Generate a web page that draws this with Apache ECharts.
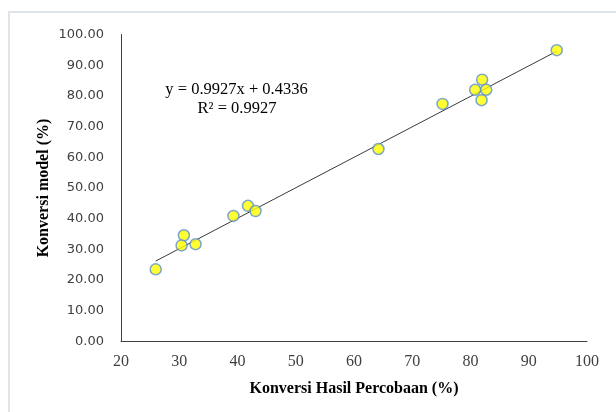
<!DOCTYPE html>
<html><head><meta charset="utf-8">
<script src="https://cdn.jsdelivr.net/npm/echarts@6/dist/echarts.min.js"></script>
<style>html,body{margin:0;padding:0;background:#fff}#c{width:616px;height:412px}</style>
</head><body><div id="c"></div>
<script>
const xVals = [25.96, 30.8, 30.4, 32.8, 39.3, 41.8, 43.1, 64.2, 75.2, 80.8, 82.0, 82.7, 81.9, 94.8];
const yVals = [23.5, 34.6, 31.3, 31.7, 40.9, 44.2, 42.5, 62.7, 77.4, 82.0, 85.3, 82.0, 78.6, 94.9];
const slope = 0.9927, intercept = 0.4336, r2 = 0.9927;
const xTitle = 'Konversi Hasil Percobaan (%)';
const yTitle = 'Konversi model (%)';

const pts = xVals.map((x, i) => [x, yVals[i]]);
const xmin = Math.min(...xVals), xmax = Math.max(...xVals);
const trend = [[xmin, slope * xmin + intercept], [xmax, slope * xmax + intercept]];

const chart = echarts.init(document.getElementById('c'));
chart.setOption({
  animation: false,
  grid: { left: 121, right: 29, top: 34.5, bottom: 70.5 },
  xAxis: {
    type: 'value', min: 20, max: 100, interval: 10,
    name: xTitle, nameLocation: 'middle', nameGap: 39, nameMoveOverlap: false,
    nameTextStyle: { fontFamily: 'Liberation Serif', fontWeight: 'bold', fontSize: 16, color: '#000' },
    axisLine: { show: true, lineStyle: { color: '#404040', width: 1 } },
    axisTick: { show: false },
    splitLine: { show: false },
    axisLabel: { fontFamily: 'Liberation Serif', fontSize: 16, color: '#404040', margin: 12 }
  },
  yAxis: {
    type: 'value', min: 0, max: 100, interval: 10,
    name: yTitle, nameLocation: 'middle', nameGap: 69, nameMoveOverlap: false,
    nameTextStyle: { fontFamily: 'Liberation Serif', fontWeight: 'bold', fontSize: 16, color: '#000' },
    axisLine: { show: true, lineStyle: { color: '#404040', width: 1 } },
    axisTick: { show: false },
    splitLine: { show: false },
    axisLabel: { fontFamily: 'DejaVu Sans', fontSize: 13, color: '#404040', margin: 17, formatter: v => v.toFixed(2) }
  },
  series: [
    {
      type: 'line', data: trend, symbol: 'none', silent: true,
      lineStyle: { color: '#3a3a3a', width: 1 }, z: 2
    },
    {
      type: 'scatter', data: pts, symbol: 'circle', symbolSize: 11,
      itemStyle: { color: '#ffff00', borderColor: '#5b8fd0', borderWidth: 1.5 }, z: 3
    }
  ],
  graphic: [
    { type: 'line', shape: { x1: 9, y1: 12, x2: 9, y2: 412 }, style: { stroke: '#dfe4ea', lineWidth: 2 } },
    { type: 'line', shape: { x1: 8, y1: 12, x2: 616, y2: 12 }, style: { stroke: '#dfe4ea', lineWidth: 2 } },
    { type: 'text', x: 236.5, y: 90, style: {
        text: 'y = ' + slope.toFixed(4) + 'x + ' + intercept.toFixed(4),
        font: '16.5px "Liberation Serif"', fill: '#000', align: 'center', verticalAlign: 'middle' } },
    { type: 'text', x: 237, y: 109, style: {
        text: 'R² = ' + r2.toFixed(4),
        font: '16.5px "Liberation Serif"', fill: '#000', align: 'center', verticalAlign: 'middle' } }
  ]
});
</script></body></html>
